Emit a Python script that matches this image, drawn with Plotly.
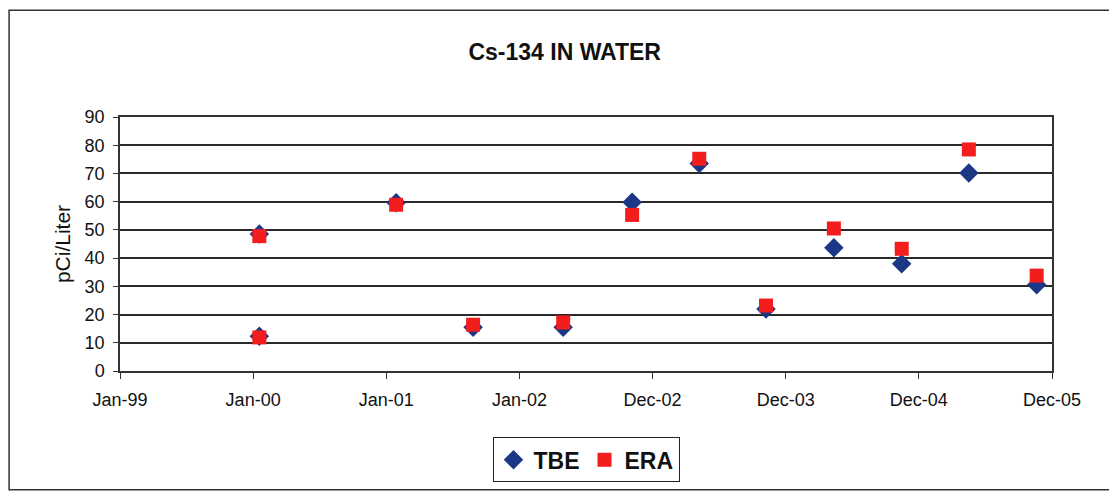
import pandas as pd
import plotly.graph_objects as go

# sample dates and results in pCi/Liter
sample_dates = ["2000-01-18", "2000-01-18", "2001-01-27", "2001-08-26", "2002-04-30",
                "2002-11-05", "2003-05-08", "2003-11-07", "2004-05-11", "2004-11-13",
                "2005-05-16", "2005-11-18"]
tbe_values = [48.5, 12.3, 59.6, 15.5, 15.5, 59.8, 73.5, 22.0, 43.7, 38.0, 70.2, 30.6]
era_values = [47.8, 11.9, 58.9, 16.4, 17.2, 55.3, 75.2, 23.2, 50.5, 43.3, 78.5, 33.8]

tick_labels = ["Jan-99", "Jan-00", "Jan-01", "Jan-02", "Dec-02", "Dec-03", "Dec-04", "Dec-05"]
y_ticks = [0, 10, 20, 30, 40, 50, 60, 70, 80, 90]

# excel style date axis: major unit of 365 days from the axis minimum
axis_start = pd.Timestamp("1999-01-01")
tick_vals = [axis_start + pd.Timedelta(days=365 * k) for k in range(len(tick_labels))]

fig = go.Figure()
fig.add_trace(go.Scatter(
    x=pd.to_datetime(sample_dates), y=tbe_values, mode="markers", name="TBE",
    marker=dict(symbol="diamond", size=15, color="#1c3786"),
))
fig.add_trace(go.Scatter(
    x=pd.to_datetime(sample_dates), y=era_values, mode="markers", name="ERA",
    marker=dict(symbol="square", size=14, color="#f41d1d"),
))

font_family = "Liberation Sans, Arial, sans-serif"
# page body adds 8px, so the figure is a bit smaller than the window
fig.update_layout(
    width=1109,
    height=487,
    autosize=False,
    margin=dict(l=112, r=65, t=109, b=124),
    paper_bgcolor="white",
    plot_bgcolor="white",
    font=dict(family=font_family, color="#111111"),
    title=dict(text="<b>Cs-134 IN WATER</b>", x=0.502, xanchor="center",
               y=0.91, yanchor="middle", font=dict(size=23, color="#111111")),
    xaxis=dict(
        type="date",
        range=[tick_vals[0], tick_vals[-1]],
        tickmode="array",
        tickvals=tick_vals,
        ticktext=tick_labels,
        showgrid=False,
        showline=True, linecolor="#333333", linewidth=1.5, mirror=True,
        ticks="outside", ticklen=6, tickcolor="#333333",
        tickfont=dict(size=18),
        ticklabelstandoff=6,
        zeroline=False,
    ),
    yaxis=dict(
        range=[0, 90],
        tickvals=y_ticks,
        showgrid=True, gridcolor="#2a2a2a", gridwidth=1.5,
        showline=True, linecolor="#333333", linewidth=1.5, mirror=True,
        ticks="outside", ticklen=5, tickcolor="#333333",
        tickfont=dict(size=18),
        ticklabelstandoff=5,
        zeroline=False,
        title=dict(text="pCi/Liter", font=dict(size=21), standoff=8),
    ),
    legend=dict(
        orientation="h",
        x=0.5, xanchor="center",
        y=-0.35, yanchor="middle",
        bordercolor="#222222", borderwidth=1,
        font=dict(size=23, family=font_family, weight="bold"),
        itemwidth=30,
    ),
    showlegend=True,
)

# outer chart-area border
fig.add_shape(type="rect", xref="paper", yref="paper",
              x0=-0.119, x1=1.062, y0=-0.468, y1=1.42,
              line=dict(color="#333333", width=1.5), fillcolor="rgba(0,0,0,0)")

fig.write_html("out.html")
